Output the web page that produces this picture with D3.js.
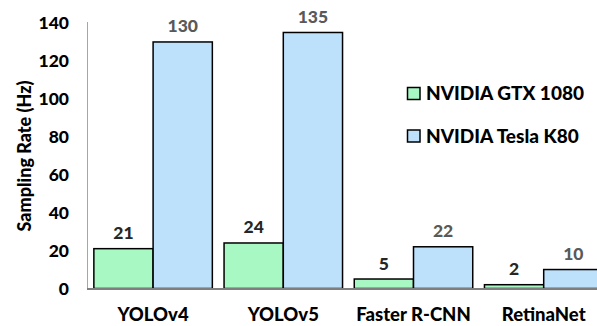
<!DOCTYPE html>
<html>
<head>
<meta charset="utf-8">
<script src="https://cdn.jsdelivr.net/npm/d3@7"></script>
<style>
  html, body { margin: 0; padding: 0; background: #fff; overflow: hidden; }
  text { font-family: Lato, "Liberation Sans", Arial, sans-serif; font-weight: 900; }
</style>
</head>
<body>
<svg id="chart" width="597" height="326"></svg>
<script>
const categories = ["YOLOv4", "YOLOv5", "Faster R-CNN", "RetinaNet"];
const seriesNames = ["NVIDIA GTX 1080", "NVIDIA Tesla K80"];
const gtx1080 = [21, 24, 5, 2];
const teslaK80 = [130, 135, 22, 10];
const yTicks = [0, 20, 40, 60, 80, 100, 120, 140];
const colors = ["#a8f8c4", "#bde0fb"];
const labelColors = ["#262626", "#595959"];

const svg = d3.select("#chart");
const series = [gtx1080, teslaK80];

const y = d3.scaleLinear().domain([0, 140]).range([288.5, 23]);
const x = d3.scaleBand().domain(categories).range([88, 608.8]).paddingInner(0.09).paddingOuter(0.045);
const xs = d3.scaleBand().domain(seriesNames).range([0, x.bandwidth()]).padding(0);

// y axis line
svg.append("line").attr("x1", 87.5).attr("x2", 87.5).attr("y1", y(140) - 1).attr("y2", y(0))
  .attr("stroke", "#a6a6a6").attr("stroke-width", 1);

// tick labels
svg.append("g").selectAll("text").data(yTicks).join("text")
  .attr("x", 69).attr("y", d => y(d)).attr("dy", "0.36em")
  .attr("text-anchor", "end").attr("font-size", 17.5).attr("fill", "#000")
  .text(d => d);

// y title
svg.append("text")
  .attr("transform", "translate(31,156) rotate(-90)")
  .attr("text-anchor", "middle").attr("font-size", 18).attr("fill", "#000")
  .text("Sampling Rate (Hz)");

// bars
const groups = svg.append("g").selectAll("g").data(categories).join("g")
  .attr("transform", d => `translate(${x(d)},0)`);

seriesNames.forEach((name, si) => {
  groups.append("rect")
    .attr("x", xs(name))
    .attr("y", (d, i) => y(series[si][i]))
    .attr("width", xs.bandwidth())
    .attr("height", (d, i) => y(0) - y(series[si][i]))
    .attr("fill", colors[si])
    .attr("stroke", "#000").attr("stroke-width", 1.5);
  groups.append("text")
    .attr("x", xs(name) + xs.bandwidth() / 2)
    .attr("y", (d, i) => y(series[si][i]) - 9.5)
    .attr("text-anchor", "middle").attr("font-size", 17.5)
    .attr("fill", labelColors[si])
    .text((d, i) => series[si][i]);
});

// baseline
svg.append("line").attr("x1", 87).attr("x2", 610).attr("y1", y(0) + 0.5).attr("y2", y(0) + 0.5)
  .attr("stroke", "#7f7f7f").attr("stroke-width", 2);

// category labels
svg.append("g").selectAll("text").data(categories).join("text")
  .attr("x", d => x(d) + x.bandwidth() / 2).attr("y", 321)
  .attr("text-anchor", "middle").attr("font-size", 18.5).attr("fill", "#000")
  .text(d => d);

// legend
const legend = svg.append("g").selectAll("g").data(seriesNames).join("g")
  .attr("transform", (d, i) => `translate(407.5,${87.5 + i * 42.5})`);
legend.append("rect").attr("width", 12.5).attr("height", 12)
  .attr("fill", (d, i) => colors[i]).attr("stroke", "#000").attr("stroke-width", 1.5);
legend.append("text").attr("x", 18.5).attr("y", 6).attr("dy", "0.36em")
  .attr("font-size", 19).attr("fill", "#000").text(d => d);
</script>
</body>
</html>
